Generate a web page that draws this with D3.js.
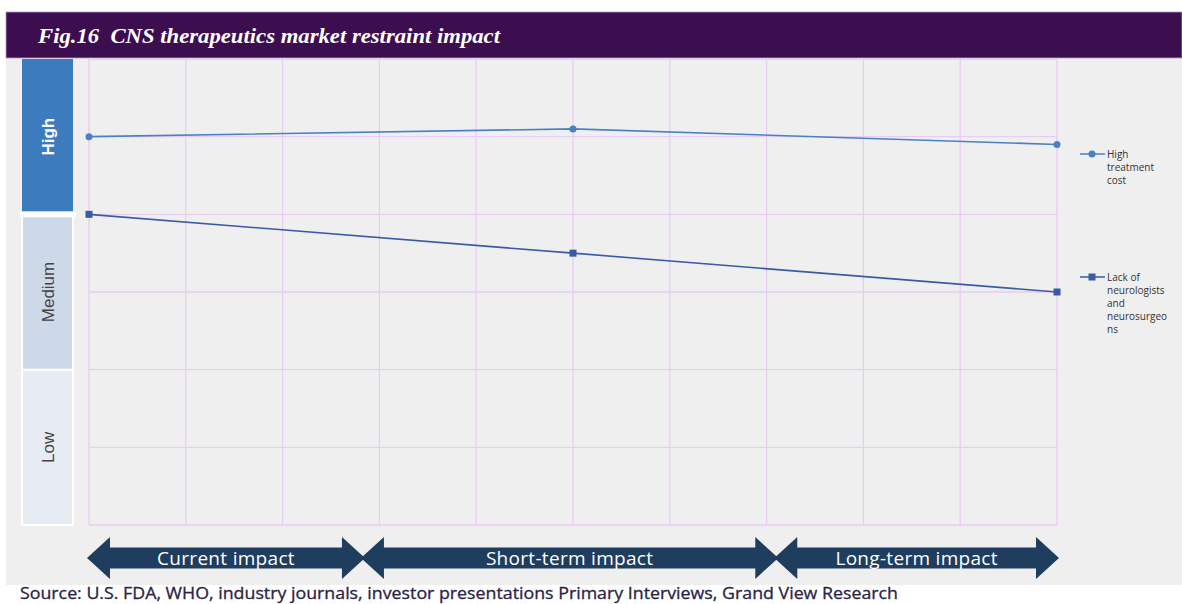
<!DOCTYPE html>
<html><head><meta charset="utf-8">
<script src="https://cdn.jsdelivr.net/npm/d3@7"></script>
<style>body{margin:0;background:#fff;}svg{display:block;} text{white-space:pre;}</style>
</head><body>
<svg id="c" width="1182" height="604"></svg>
<script>
const title = "Fig.16  CNS therapeutics market restraint impact";
const source = "Source: U.S. FDA, WHO, industry journals, investor presentations Primary Interviews, Grand View Research";
const xPositions = [0, 5, 10];
const seriesNames = ["High treatment cost", "Lack of neurologists and neurosurgeons"];
const highTreatmentCost = [5.0, 5.1, 4.9];
const lackOfNeurologists = [4.0, 3.5, 3.0];
const legendLines = [["High", "treatment", "cost"], ["Lack of", "neurologists", "and", "neurosurgeo", "ns"]];
const levels = ["Low", "Medium", "High"];
const levelRanges = [[0, 2], [2, 4], [4, 6]];
const phases = ["Current impact", "Short-term impact", "Long-term impact"];
const phaseRanges = [[0, 2.83], [2.83, 7.1], [7.1, 10]];

const svg = d3.select("#c");
const x = d3.scaleLinear().domain([0, 10]).range([89, 1057]);
const y = d3.scaleLinear().domain([0, 6]).range([525, 59]);

// panel
svg.append("rect").attr("x", 6).attr("y", 58).attr("width", 1176).attr("height", 527).attr("fill", "#efefef");
// title bar
svg.append("rect").attr("x", 6).attr("y", 12).attr("width", 1176).attr("height", 46).attr("fill", "#3c0e4f")
  .attr("stroke", "#b99cc8").attr("stroke-width", 0.8);
svg.append("text").attr("x", 38).attr("y", 43).text(title)
  .attr("font-family", "Liberation Serif, serif").attr("font-style", "italic").attr("font-weight", "bold")
  .attr("font-size", 20).attr("fill", "#fff")
  .attr("textLength", 462).attr("lengthAdjust", "spacingAndGlyphs");

// level bands
const bandColors = {Low: "#e6ebf4", Medium: "#cdd8e8", High: "#3d7bbf"};
const textColors = {Low: "#444", Medium: "#444", High: "#fff"};
levels.forEach((lv, i) => {
  const r = levelRanges[i];
  const y0 = y(r[1]), y1 = y(r[0]);
  svg.append("rect").attr("x", 22).attr("y", y0).attr("width", 51).attr("height", y1 - y0)
    .attr("fill", bandColors[lv]).attr("stroke", "#fff").attr("stroke-width", i === 2 ? 0 : 2);
  svg.append("text").attr("transform", `translate(54,${(y0 + y1) / 2}) rotate(-90)`)
    .attr("text-anchor", "middle").text(lv)
    .attr("font-family", "Liberation Sans, Arial, sans-serif").attr("font-size", 17)
    .attr("font-weight", lv === "High" ? "bold" : "normal").attr("fill", textColors[lv]);
});
svg.append("rect").attr("x", 20).attr("y", y(4) - 3).attr("width", 56).attr("height", 6).attr("fill", "#fff");

// grid
const g = svg.append("g");
g.selectAll("line.v").data(d3.range(0, 11)).join("line")
  .attr("x1", d => x(d)).attr("x2", d => x(d)).attr("y1", y(6)).attr("y2", y(0))
  .attr("stroke", "#e8cdf2").attr("stroke-width", 1.3);
g.selectAll("line.h").data(d3.range(0, 7)).join("line")
  .attr("x1", x(0)).attr("x2", x(10)).attr("y1", d => y(d)).attr("y2", d => y(d))
  .attr("stroke", "#e8cdf2").attr("stroke-width", 1.3);

// lines
const line = d3.line().x((d, i) => x(xPositions[i])).y(d => y(d));
const c1 = "#4a80c4", c2 = "#3a5aa8";
svg.append("path").attr("d", line(highTreatmentCost)).attr("fill", "none").attr("stroke", c1).attr("stroke-width", 1.6);
svg.selectAll("circle.p").data(highTreatmentCost).join("circle")
  .attr("cx", (d, i) => x(xPositions[i])).attr("cy", d => y(d)).attr("r", 3.5).attr("fill", c1);
svg.append("path").attr("d", line(lackOfNeurologists)).attr("fill", "none").attr("stroke", c2).attr("stroke-width", 1.6);
svg.selectAll("rect.p").data(lackOfNeurologists).join("rect")
  .attr("x", (d, i) => x(xPositions[i]) - 3.5).attr("y", d => y(d) - 3.5).attr("width", 7).attr("height", 7).attr("fill", c2);

// legend
const legendY = [154, 277];
[c1, c2].forEach((col, k) => {
  const ly = legendY[k];
  svg.append("line").attr("x1", 1080).attr("x2", 1105).attr("y1", ly).attr("y2", ly).attr("stroke", col).attr("stroke-width", 1.5);
  if (k === 0) svg.append("circle").attr("cx", 1092).attr("cy", ly).attr("r", 3.5).attr("fill", col);
  else svg.append("rect").attr("x", 1088.5).attr("y", ly - 3.5).attr("width", 7).attr("height", 7).attr("fill", col);
  const t = svg.append("text").attr("x", 1107).attr("y", ly + 3.5)
    .attr("font-family", "Open Sans, Liberation Sans, sans-serif").attr("font-size", 10).attr("fill", "#333");
  legendLines[k].forEach((s, j) => t.append("tspan").attr("x", 1107).attr("dy", j === 0 ? 0 : 13).text(s));
});

// phase arrows
const ay = 558, bodyH = 10.5, headH = 21, headW = 23;
phases.forEach((p, i) => {
  const x0 = x(phaseRanges[i][0]) - 2, x1 = x(phaseRanges[i][1]) + 2;
  const pts = [
    [x0, ay], [x0 + headW, ay - headH], [x0 + headW, ay - bodyH], [x1 - headW, ay - bodyH], [x1 - headW, ay - headH],
    [x1, ay], [x1 - headW, ay + headH], [x1 - headW, ay + bodyH], [x0 + headW, ay + bodyH], [x0 + headW, ay + headH]
  ];
  svg.append("path").attr("d", d3.line()(pts) + "Z").attr("fill", "#1f3d5e");
  svg.append("text").attr("x", (x0 + x1) / 2).attr("y", ay + 6.5).attr("text-anchor", "middle").text(p)
    .attr("font-family", "Open Sans, Liberation Sans, sans-serif").attr("font-size", 19)
    .attr("letter-spacing", 0.3).attr("fill", "#fff");
});

svg.append("text").attr("x", 20).attr("y", 599).text(source)
  .attr("font-family", "Open Sans, Liberation Sans, sans-serif")
  .attr("font-size", 15.5).attr("fill", "#2b2347").attr("stroke", "#2b2347").attr("stroke-width", 0.3)
  .attr("textLength", 878).attr("lengthAdjust", "spacingAndGlyphs");
</script>
</body></html>
